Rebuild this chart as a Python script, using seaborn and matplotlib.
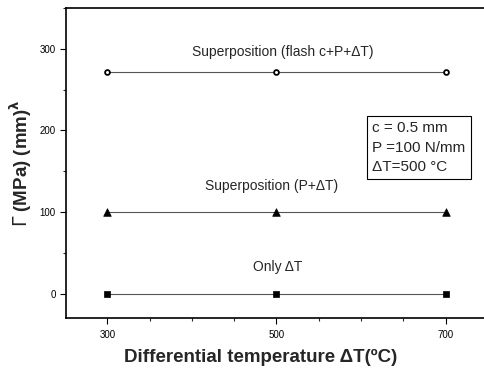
import numpy as np
import pandas as pd
import matplotlib
matplotlib.use("Agg")
import matplotlib.pyplot as plt
import seaborn as sns
from matplotlib.ticker import MultipleLocator, FixedLocator

sns.set_style("ticks")
plt.rcParams['font.family'] = ['Liberation Sans', 'DejaVu Sans']

temps = [300, 500, 700]
flash_vals = [272, 272, 272]
superpos_vals = [100, 100, 100]
only_vals = [0, 0, 0]
series_names = ["Superposition (flash c+P+\u0394T)", "Superposition (P+\u0394T)", "Only \u0394T"]

df = pd.DataFrame({
    "T": temps * 3,
    "G": flash_vals + superpos_vals + only_vals,
    "series": [series_names[0]] * 3 + [series_names[1]] * 3 + [series_names[2]] * 3,
})

fig = plt.figure(figsize=(4.84, 3.74), dpi=100)
ax = fig.add_axes([66/484, 1 - 318/374, 1.02 - 66/484, (318 - 8)/374])

markers = {series_names[0]: "o", series_names[1]: "^", series_names[2]: "s"}
for name in series_names:
    sub = df[df.series == name]
    sns.lineplot(data=sub, x="T", y="G", ax=ax, color="#555555", lw=0.8, legend=False)
    mk = markers[name]
    if mk == "o":
        sns.scatterplot(data=sub, x="T", y="G", ax=ax, marker="o", s=12,
                        facecolor="white", edgecolor="black", linewidth=1.3, zorder=5, legend=False)
    elif mk == "^":
        sns.scatterplot(data=sub, x="T", y="G", ax=ax, marker="^", s=30,
                        color="black", edgecolor="black", linewidth=0.5, zorder=5, legend=False)
    else:
        sns.scatterplot(data=sub, x="T", y="G", ax=ax, marker="s", s=16,
                        color="black", edgecolor="black", linewidth=0.5, zorder=5, legend=False)

ax.set_xlim(251, 757)
ax.set_ylim(-30, 350)
ax.xaxis.set_major_locator(FixedLocator([300, 500, 700]))
ax.xaxis.set_minor_locator(MultipleLocator(50))
ax.yaxis.set_major_locator(FixedLocator([0, 100, 200, 300]))
ax.yaxis.set_minor_locator(MultipleLocator(50))
ax.tick_params(axis="both", which="major", direction="out", length=4, width=0.8, labelsize=7, colors="black")
ax.tick_params(axis="x", which="major", pad=5)
ax.tick_params(axis="both", which="minor", direction="out", length=2.5, width=0.8)
ax.spines["right"].set_visible(False)
for s in ["left", "bottom", "top"]:
    ax.spines[s].set_linewidth(1.2)
    ax.spines[s].set_color("black")

ax.set_xlabel("Differential temperature \u0394T(\u00baC)", fontsize=13.5, fontweight="bold", labelpad=8)
ax.xaxis.set_label_coords(0.454, -0.1)
ax.xaxis.label.set_va("top")
ax.set_ylabel(r"$\Gamma$ (MPa) (mm)$^{\mathbf{\lambda}}$", fontsize=13.5, fontweight="bold", labelpad=4)

ax.text(508, 296, series_names[0], ha="center", va="center", fontsize=10)
ax.text(494, 132, series_names[1], ha="center", va="center", fontsize=10)
ax.text(501, 33, series_names[2], ha="center", va="center", fontsize=10)

ax.text(0.716, 0.55, "c = 0.5 mm\nP =100 N/mm\n\u0394T=500 \u00b0C", transform=ax.transAxes,
        ha="left", va="center", fontsize=11, linespacing=1.5,
        bbox=dict(boxstyle="square,pad=0.35", facecolor="white", edgecolor="black", linewidth=0.8))

fig.savefig("out.png", dpi=100)
